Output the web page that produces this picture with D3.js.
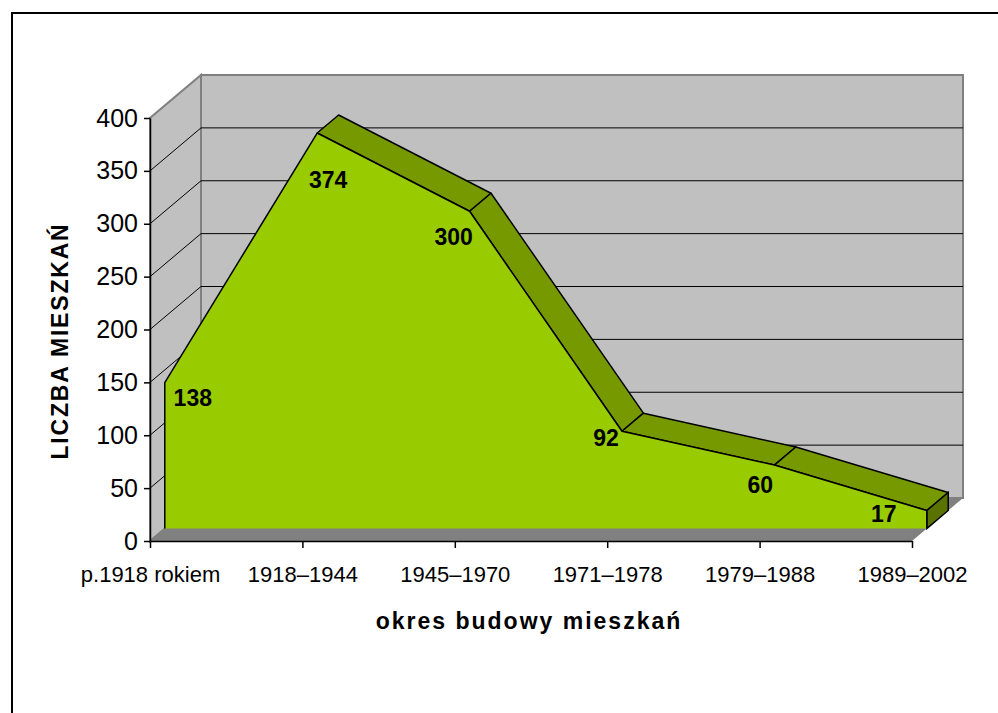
<!DOCTYPE html>
<html lang="pl">
<head>
<meta charset="UTF-8">
<script src="https://cdn.jsdelivr.net/npm/d3@7"></script>
<style>
  body { margin: 0; background: #fff; font-family: "Liberation Sans", Arial, sans-serif; }
  .axis text { fill: #000; }
</style>
<title>Liczba mieszkań wg okresu budowy</title>
</head>
<body>
<div id="vis"></div>
<script>
// data
const categories = ['p.1918 rokiem', '1918–1944', '1945–1970', '1971–1978', '1979–1988', '1989–2002'];
const flats = [138, 374, 300, 92, 60, 17];
const yTicks = [0, 50, 100, 150, 200, 250, 300, 350, 400];
const gridValues = [50, 100, 150, 200, 250, 300, 350];

// where the value label sits relative to the front corner of each point
const labelNudge = [[28, 15], [11, 47], [-16, 26], [-16, 7], [-14, 20], [-43, 3]];

const width = 998;
const height = 713;

// 3D look: the back wall is pushed this far up-right from the front plane
const depth = { x: 51, y: -43 };
const zFront = 0.29;
const zBack = 0.71;

const x = d3.scalePoint().domain(categories).range([150, 912]);
const y = d3.scaleLinear().domain([0, 400]).range([541, 118]);

// projected point for category c, value v at depth z (0 = front plane, 1 = back wall)
function pt(c, v, z) {
  return [x(c) + depth.x * z, y(v) + depth.y * z];
}

const poly = pts => 'M' + pts.map(p => p.join(',')).join('L') + 'Z';
const line = pts => 'M' + pts.map(p => p.join(',')).join('L');

const svg = d3.select('#vis')
  .append('svg')
  .attr('width', width)
  .attr('height', height);

// outer chart frame (runs off the right and bottom of the picture)
svg.append('path')
  .attr('d', 'M12,713V13H998')
  .attr('fill', 'none')
  .attr('stroke', '#000')
  .attr('stroke-width', 2);

const first = categories[0];
const last = categories[categories.length - 1];

// left side wall
svg.append('path')
  .attr('d', poly([pt(first, 0, 0), pt(first, 400, 0), pt(first, 400, 1), pt(first, 0, 1)]))
  .attr('fill', '#c0c0c0')
  .attr('stroke', '#808080')
  .attr('stroke-width', 2);

// back wall
svg.append('path')
  .attr('d', poly([pt(first, 0, 1), pt(first, 400, 1), pt(last, 400, 1), pt(last, 0, 1)]))
  .attr('fill', '#c0c0c0')
  .attr('stroke', '#808080')
  .attr('stroke-width', 2);

// gridlines: along the side wall then across the back wall
svg.append('g')
  .selectAll('path')
  .data(gridValues)
  .join('path')
  .attr('d', v => line([pt(first, v, 0), pt(first, v, 1), pt(last, v, 1)]))
  .attr('fill', 'none')
  .attr('stroke', '#000')
  .attr('stroke-width', 1);

// floor
svg.append('path')
  .attr('d', poly([pt(first, 0, 0), pt(last, 0, 0), pt(last, 0, 1), pt(first, 0, 1)]))
  .attr('fill', '#808080');

// area series
const pts = categories.map((c, i) => ({ c, v: flats[i] }));
const area = svg.append('g');

// top faces, only where the surface faces the viewer
const tops = d3.pairs(pts).filter(([a, b]) => {
  const p0 = pt(a.c, a.v, zFront), p1 = pt(b.c, b.v, zFront), p3 = pt(a.c, a.v, zBack);
  return (p1[0] - p0[0]) * (p3[1] - p0[1]) - (p1[1] - p0[1]) * (p3[0] - p0[0]) < 0;
});

area.selectAll('.top')
  .data(tops)
  .join('path')
  .attr('class', 'top')
  .attr('d', ([a, b]) => poly([pt(a.c, a.v, zFront), pt(b.c, b.v, zFront), pt(b.c, b.v, zBack), pt(a.c, a.v, zBack)]))
  .attr('fill', '#779900')
  .attr('stroke', '#000')
  .attr('stroke-width', 1.5)
  .attr('stroke-linejoin', 'round');

// right end face
const end = pts[pts.length - 1];
area.append('path')
  .attr('d', poly([pt(end.c, 0, zFront), pt(end.c, end.v, zFront), pt(end.c, end.v, zBack), pt(end.c, 0, zBack)]))
  .attr('fill', '#5a7300')
  .attr('stroke', '#000')
  .attr('stroke-width', 1.5);

// front face
const frontPts = [pt(first, 0, zFront)]
  .concat(pts.map(d => pt(d.c, d.v, zFront)))
  .concat([pt(last, 0, zFront)]);

area.append('path')
  .attr('d', poly(frontPts))
  .attr('fill', '#99cc00');

area.append('path')
  .attr('d', line(frontPts))
  .attr('fill', 'none')
  .attr('stroke', '#000')
  .attr('stroke-width', 1.5)
  .attr('stroke-linejoin', 'round');

// value labels
svg.append('g')
  .selectAll('text')
  .data(pts)
  .join('text')
  .attr('x', (d, i) => pt(d.c, d.v, zFront)[0] + labelNudge[i][0])
  .attr('y', (d, i) => pt(d.c, d.v, zFront)[1] + labelNudge[i][1])
  .attr('dy', '0.35em')
  .attr('text-anchor', 'middle')
  .style('font-size', '23px')
  .style('font-weight', 'bold')
  .text(d => d.v);

// axes
const yAxis = svg.append('g')
  .attr('class', 'axis')
  .attr('transform', `translate(${x(first)},0)`)
  .call(d3.axisLeft(y).tickValues(yTicks).tickSize(6).tickSizeOuter(0).tickPadding(6));
yAxis.selectAll('text').style('font-size', '25px').style('font-family', '"Liberation Sans", Arial, sans-serif');
yAxis.selectAll('path, line').attr('stroke', '#000').attr('stroke-width', 1.5);

const xAxis = svg.append('g')
  .attr('class', 'axis')
  .attr('transform', `translate(0,${y(0)})`)
  .call(d3.axisBottom(x).tickSize(7).tickSizeOuter(0).tickPadding(18));
xAxis.selectAll('text').style('font-size', '22px').style('font-family', '"Liberation Sans", Arial, sans-serif');
xAxis.selectAll('path, line').attr('stroke', '#000').attr('stroke-width', 1.5);

// axis titles
svg.append('text')
  .attr('transform', 'translate(68,341) rotate(-90)')
  .attr('text-anchor', 'middle')
  .style('font-size', '23px')
  .style('font-weight', 'bold')
  .style('letter-spacing', '1.8px')
  .text('LICZBA MIESZKAŃ');

svg.append('text')
  .attr('x', 529)
  .attr('y', 629)
  .attr('text-anchor', 'middle')
  .style('font-size', '23px')
  .style('font-weight', 'bold')
  .style('letter-spacing', '2px')
  .text('okres budowy mieszkań');
</script>
</body>
</html>
